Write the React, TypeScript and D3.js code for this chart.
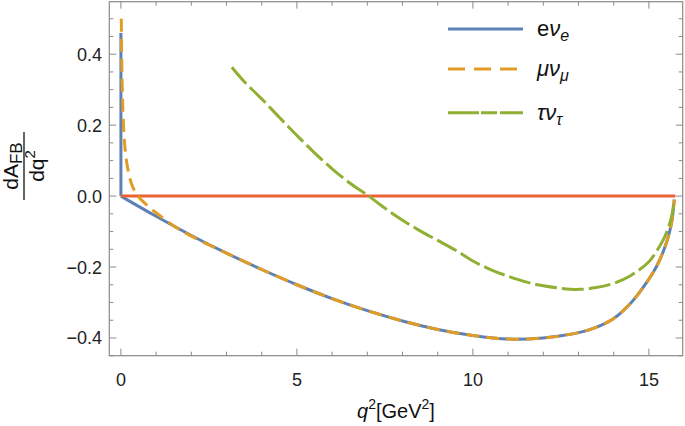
import React from "react";
import * as d3 from "d3";

const W = 685;
const H = 426;

// q^2 values and dA_FB/dq^2 values
const blueSpikeX = [0, 0];
const blueSpikeY = [0.46, 0];
const blueX = [0, 1, 2, 3, 4, 5, 6, 7, 8, 9, 10, 11, 12, 12.5, 13, 13.5, 14, 14.5, 15, 15.22, 15.4, 15.55, 15.65, 15.72];
const blueY = [0, -0.057, -0.111, -0.161, -0.207, -0.25, -0.289, -0.323, -0.352, -0.376, -0.393, -0.403, -0.4, -0.394, -0.385, -0.37, -0.345, -0.3, -0.234, -0.198, -0.158, -0.115, -0.072, -0.01];

const orangeX = [0.01, 0.02, 0.035, 0.06, 0.1, 0.15, 0.22, 0.3, 0.4, 0.5, 0.7, 1.0, 1.5, 2, 3, 4, 5, 6, 7, 8, 9, 10, 11, 12, 12.5, 13, 13.5, 14, 14.5, 15, 15.22, 15.4, 15.55, 15.65, 15.72];
const orangeY = [0.5, 0.41, 0.32, 0.23, 0.155, 0.105, 0.065, 0.035, 0.013, -0.002, -0.022, -0.047, -0.084, -0.113, -0.161, -0.207, -0.25, -0.289, -0.323, -0.352, -0.376, -0.393, -0.403, -0.4, -0.394, -0.385, -0.37, -0.345, -0.3, -0.234, -0.198, -0.158, -0.115, -0.072, -0.01];

const greenX = [3.15, 3.5, 4, 4.5, 5, 5.5, 6, 6.5, 7, 7.5, 8, 8.5, 9, 9.5, 10, 10.5, 11, 11.5, 12, 12.5, 13, 13.5, 14, 14.5, 15, 15.22, 15.4, 15.55, 15.65, 15.72];
const greenY = [0.363, 0.323, 0.274, 0.222, 0.171, 0.122, 0.077, 0.037, 0.003, -0.034, -0.068, -0.098, -0.125, -0.152, -0.183, -0.207, -0.226, -0.242, -0.253, -0.26, -0.263, -0.258, -0.246, -0.223, -0.185, -0.155, -0.125, -0.09, -0.055, -0.01];

const zeroX = [0, 15.75];
const zeroY = [0, 0];

const xMajor = [0, 5, 10, 15];
const yMajor = [-0.4, -0.2, 0.0, 0.2, 0.4];

const colors = { blue: "#5E81B5", orange: "#E19C24", green: "#8FB032", red: "#EB6235" };

export default function App() {
  const x = d3.scaleLinear().domain([-0.33, 15.96]).range([109.3, 682.7]);
  const y = d3.scaleLinear().domain([-0.45, 0.548]).range([355.7, 1.7]);

  const mk = (xs: number[], ys: number[], curve: any = d3.curveCatmullRom.alpha(0.5)) =>
    d3
      .line<number>()
      .x((_, i) => x(xs[i]))
      .y((d) => y(d))
      .curve(curve)(ys) || "";

  const left = 109.3, right = 682.7, top = 1.7, bottom = 355.7;
  const xMinor = d3.range(0, 16, 1).filter((v) => !xMajor.includes(v));
  const yMinor = d3.range(-0.45, 0.55, 0.05).map((v) => Math.round(v * 100) / 100).filter((v) => !yMajor.some((m) => Math.abs(m - v) < 1e-6));
  const axisColor = "#8a8a8a";
  const font = "'Liberation Sans', Arial, sans-serif";

  return (
    <svg width={W} height={H} style={{ position: "absolute", left: 0, top: 0, background: "#fff" }} fontFamily={font}>
      <rect x={0} y={0} width={W} height={H} fill="#fff" />
      {/* frame */}
      <rect x={left} y={top} width={right - left} height={bottom - top} fill="none" stroke={axisColor} strokeWidth={1.2} />
      {/* x ticks */}
      {xMajor.map((v) => (
        <g key={"xM" + v}>
          <line x1={x(v)} x2={x(v)} y1={bottom} y2={bottom - 7} stroke={axisColor} />
          <line x1={x(v)} x2={x(v)} y1={top} y2={top + 7} stroke={axisColor} />
          <text x={x(v)} y={386} fontSize={18} textAnchor="middle" fill="#222">{v}</text>
        </g>
      ))}
      {xMinor.map((v) => (
        <g key={"xm" + v}>
          <line x1={x(v)} x2={x(v)} y1={bottom} y2={bottom - 4} stroke={axisColor} />
          <line x1={x(v)} x2={x(v)} y1={top} y2={top + 4} stroke={axisColor} />
        </g>
      ))}
      {yMajor.map((v) => (
        <g key={"yM" + v}>
          <line x1={left} x2={left + 7} y1={y(v)} y2={y(v)} stroke={axisColor} />
          <line x1={right} x2={right - 7} y1={y(v)} y2={y(v)} stroke={axisColor} />
          <text x={102} y={y(v) + 6.5} fontSize={18} textAnchor="end" fill="#222">
            {(v < 0 ? "\u2212" : "") + Math.abs(v).toFixed(1)}
          </text>
        </g>
      ))}
      {yMinor.map((v) => (
        <g key={"ym" + v}>
          <line x1={left} x2={left + 4} y1={y(v)} y2={y(v)} stroke={axisColor} />
          <line x1={right} x2={right - 4} y1={y(v)} y2={y(v)} stroke={axisColor} />
        </g>
      ))}

      {/* curves */}
      <path d={mk(blueSpikeX, blueSpikeY, d3.curveLinear)} fill="none" stroke={colors.blue} strokeWidth={3} />
      <path d={mk(blueX, blueY)} fill="none" stroke={colors.blue} strokeWidth={3} />
      <path d={mk(zeroX, zeroY, d3.curveLinear)} fill="none" stroke={colors.red} strokeWidth={3} />
      <path d={mk(orangeX, orangeY)} fill="none" stroke={colors.orange} strokeWidth={3} strokeDasharray="13,7" />
      <path d={mk(greenX, greenY)} fill="none" stroke={colors.green} strokeWidth={3} strokeDasharray="22,5" />

      {/* legend */}
      <line x1={448} x2={523} y1={29} y2={29} stroke={colors.blue} strokeWidth={3} />
      <line x1={448} x2={517} y1={69} y2={69} stroke={colors.orange} strokeWidth={3} strokeDasharray="17,9" />
      <line x1={448} x2={523} y1={112.7} y2={112.7} stroke={colors.green} strokeWidth={3} strokeDasharray="31,2,16,3,23" />
      <text x={537} y={36} fontSize={22} fill="#111">
        e<tspan fontStyle="italic">ν</tspan><tspan fontSize={16} dy={5} fontStyle="italic">e</tspan>
      </text>
      <text x={537} y={76} fontSize={22} fill="#111" fontStyle="italic">
        μν<tspan fontSize={16} dy={5}>μ</tspan>
      </text>
      <text x={537} y={119.5} fontSize={22} fill="#111" fontStyle="italic">
        τν<tspan fontSize={16} dy={5}>τ</tspan>
      </text>

      {/* y label */}
      <g transform="translate(24,166) rotate(-90)">
        <text x={0} y={-6} fontSize={21} textAnchor="middle" fill="#111">
          dA<tspan fontSize={17} dy={4}>FB</tspan>
        </text>
        <line x1={-34} x2={34} y1={0} y2={0} stroke="#111" strokeWidth={1.3} />
        <text x={0} y={20} fontSize={21} textAnchor="middle" fill="#111">
          dq<tspan fontSize={15} dy={-9}>2</tspan>
        </text>
      </g>

      {/* x label */}
      <text x={396} y={418} fontSize={20} textAnchor="middle" fill="#111">
        <tspan fontStyle="italic">q</tspan>
        <tspan fontSize={14} dy={-9}>2</tspan>
        <tspan dy={9}>[GeV</tspan>
        <tspan fontSize={14} dy={-9}>2</tspan>
        <tspan dy={9}>]</tspan>
      </text>
    </svg>
  );
}
